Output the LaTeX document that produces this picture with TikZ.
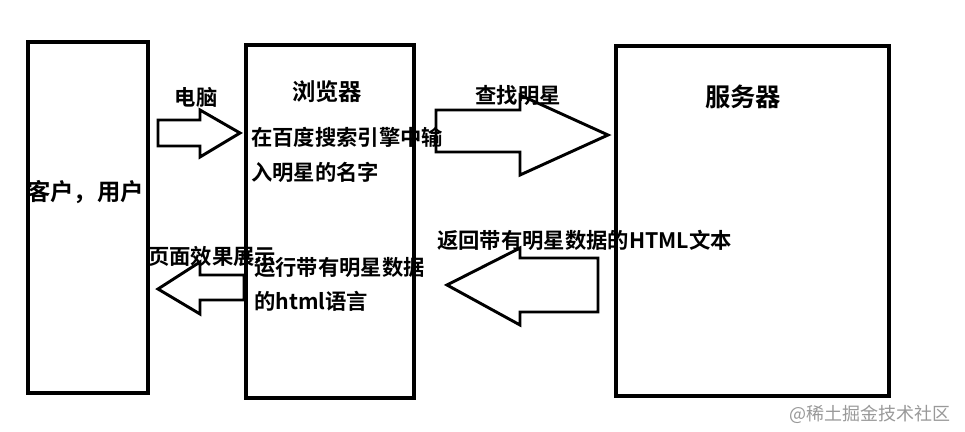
\documentclass[tikz,border=0pt]{standalone}
\usepackage{fontspec}
\newfontfamily\cjk{Noto Sans CJK SC}[BoldFont={Noto Sans CJK SC Bold}]
\begin{document}
\begin{tikzpicture}[x=0.75pt,y=-0.75pt,
  box/.style={draw=black,line width=2.4pt},
  blk/.style={draw=black,line width=2.2pt,fill=white,line join=miter},
  lbl/.style={font=\cjk\bfseries\fontsize{16}{18}\selectfont,inner sep=0pt},
  big/.style={font=\cjk\bfseries\fontsize{19}{22}\selectfont,inner sep=0pt}]
\useasboundingbox[fill=white] (0,0) rectangle (965,432);
\draw[box] (28,42) rectangle (148,393);
\draw[box] (246,45) rectangle (414,398);
\draw[box] (616,46) rectangle (889,396);
% arrows
\draw[blk] (158,120) -- (200,120) -- (200,110) -- (240,133) -- (200,157) -- (200,146) -- (158,146) -- cycle;
\draw[blk] (436,110) -- (520,110) -- (520,95) -- (608,135) -- (520,175) -- (520,152) -- (436,152) -- cycle;
\draw[blk] (598,258) -- (520,258) -- (520,248) -- (447,285) -- (520,325) -- (520,312) -- (598,312) -- cycle;
\draw[blk] (244,275) -- (200,275) -- (200,262) -- (158,289) -- (200,314) -- (200,300) -- (244,300) -- cycle;
% texts
\node[lbl] (t1) at (196,97) {电脑};
\node[font=\cjk\bfseries\fontsize{17.5}{20}\selectfont,inner sep=0pt] (t2) at (327,92) {浏览器};
\node[lbl,anchor=west] (t3) at (251,137) {在百度搜索引擎中输};
\node[lbl,anchor=west] (t4) at (251,172) {入明星的名字};
\node[lbl] (t5) at (518,95) {查找明星};
\node[big] (t6) at (743,97) {服务器};
\node[font=\cjk\bfseries\fontsize{17.5}{20}\selectfont,inner sep=0pt,anchor=west] (t7) at (27,192) {客户，用户};
\node[lbl,anchor=west] (t8) at (437,240) {返回带有明星数据的HTML文本};
\node[lbl,anchor=west] (t9) at (148,256) {页面效果展示};
\node[lbl,anchor=west] (t10) at (254,268) {运行带有明星数据};
\node[lbl,anchor=west] (t11) at (254,301) {的html语言};
\node[font=\cjk\fontsize{13.5}{15}\selectfont,text=black!40,inner sep=0pt] (wm) at (870,414) {@稀土掘金技术社区};
\end{tikzpicture}
\end{document}
